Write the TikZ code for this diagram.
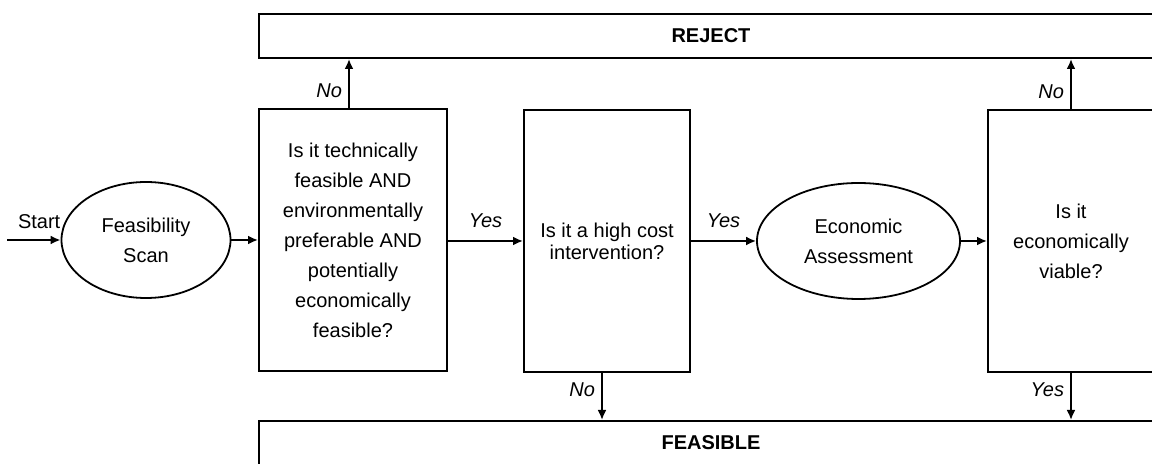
\documentclass[tikz,border=0pt]{standalone}
\usepackage{fontspec}
\setmainfont{Liberation Sans}
\usetikzlibrary{shapes.geometric,arrows.meta,positioning,calc}

\tikzset{
  txt/.style={font=\fontsize{10}{15}\selectfont},
  process/.style={txt, draw, line width=0.9pt, ellipse, inner sep=0pt, align=center, minimum height=58pt},
  decision/.style={txt, draw, line width=1pt, rectangle, inner sep=0pt, align=center, minimum width=83pt, minimum height=131pt},
  outcome/.style={draw, line width=1pt, rectangle, minimum width=452pt, minimum height=22pt, font=\fontsize{10}{12}\selectfont\bfseries},
  flow/.style={line width=1pt, -{Latex[length=5pt,width=4.5pt]}},
  lbl/.style={txt, inner sep=0pt, font=\fontsize{10}{12}\selectfont\itshape},
}

\begin{document}
\begin{tikzpicture}[x=0.5pt, y=-0.5pt]
  \clip (0,0) rectangle (1152,464);
  \fill[white] (0,0) rectangle (1152,464);

  % outcomes
  \node[outcome] (reject) at (711,36) {REJECT};
  \node[outcome] (feasible) at (711,443) {FEASIBLE};

  % steps
  \node[process, minimum width=84.5pt] (scan) at (146,240) {Feasibility\\Scan};
  \node[decision, minimum width=94pt] (tech) at (353,240.5) {Is it technically\\feasible AND\\environmentally\\preferable AND\\potentially\\economically\\feasible?};
  \node[decision, font=\fontsize{10}{11}\selectfont] (cost) at (607,241) {Is it a high cost\\intervention?};
  \node[process, minimum width=101.5pt] (econ) at (858.5,241) {Economic\\Assessment};
  \node[decision] (viable) at (1071,241) {Is it\\economically\\viable?};

  \coordinate (start) at (7,240);

  % connectors
  \draw[flow] (start) -- node[pos=0.6, above=5pt, txt, inner sep=0pt] {Start} (scan.west);
  \draw[flow] (scan.east) -- (scan.east -| tech.west);
  \draw[flow] (tech.east |- cost.west) -- node[lbl, above=6pt] {Yes} (cost.west);
  \draw[flow] (cost.east) -- node[lbl, above=6pt] {Yes} (econ.west);
  \draw[flow] (econ.east) -- (viable.west);

  \draw[flow] ([xshift=-2pt]tech.north) -- node[lbl, pos=0.35, left=3pt] {No} ([xshift=-2pt]tech.north |- reject.south);
  \draw[flow] ([xshift=-2.5pt]cost.south) -- node[lbl, pos=0.35, left=3pt] {No} ([xshift=-2.5pt]cost.south |- feasible.north);
  \draw[flow] (viable.north) -- node[lbl, pos=0.35, left=3pt] {No} (viable.north |- reject.south);
  \draw[flow] (viable.south) -- node[lbl, pos=0.35, left=3pt] {Yes} (viable.south |- feasible.north);
\end{tikzpicture}
\end{document}
